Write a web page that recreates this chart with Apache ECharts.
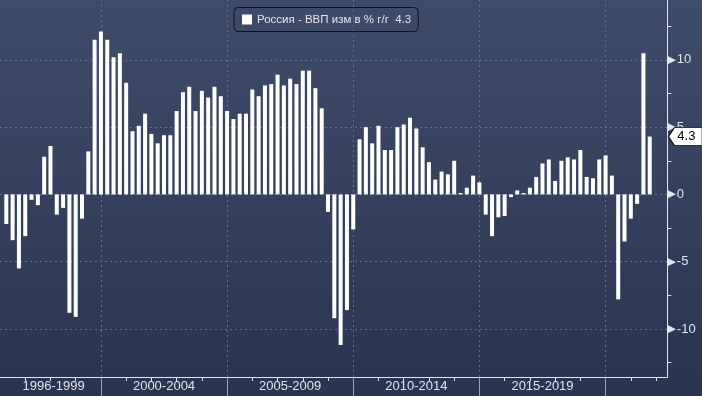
<!DOCTYPE html>
<html><head><meta charset="utf-8">
<script src="https://cdn.jsdelivr.net/npm/echarts@6/dist/echarts.min.js"></script>
<style>html,body{margin:0;padding:0;background:#333f5c}#c{width:702px;height:396px}</style>
</head><body><div id="c"></div>
<script>
const seriesName = 'Россия - ВВП изм в % г/г';
const startYear = 1996;
// quarterly y/y GDP growth, 1996Q1 .. 2021Q3
const values = [
  -2.2, -3.4, -5.5, -3.1,   // 1996
  -0.4, -0.8, 2.8, 3.6,     // 1997
  -1.5, -1.0, -8.8, -9.1,   // 1998
  -1.8, 3.2, 11.5, 12.1,    // 1999
  11.5, 10.2, 10.5, 8.3,    // 2000
  4.7, 5.1, 6.0, 4.5,       // 2001
  3.8, 4.4, 4.4, 6.2,       // 2002
  7.6, 8.0, 6.2, 7.7,       // 2003
  7.2, 8.0, 7.3, 6.2,       // 2004
  5.6, 6.0, 6.0, 7.8,       // 2005
  7.3, 8.1, 8.2, 8.9,       // 2006
  8.1, 8.6, 8.2, 9.2,       // 2007
  9.2, 7.9, 6.4, -1.3,      // 2008
  -9.2, -11.2, -8.6, -2.6,  // 2009
  4.1, 5.0, 3.8, 5.1,       // 2010
  3.3, 3.3, 5.0, 5.2,       // 2011
  5.7, 4.9, 3.5, 2.4,       // 2012
  1.1, 1.7, 1.5, 2.5,       // 2013
  0.1, 0.5, 1.4, 0.9,       // 2014
  -1.5, -3.1, -1.7, -1.6,   // 2015
  -0.2, 0.3, 0.1, 0.5,      // 2016
  1.3, 2.3, 2.6, 1.0,       // 2017
  2.5, 2.75, 2.6, 3.3,      // 2018
  1.3, 1.2, 2.6, 2.9,       // 2019
  1.4, -7.8, -3.5, -1.8,    // 2020
  -0.7, 10.5, 4.3           // 2021
];
const quarters = values.map((v, i) => (startYear + Math.floor(i / 4)) + ' Q' + (i % 4 + 1));
// x axis measured in quarters since 1996-01-01
const yearTicks = [4, 8, 12, 16, 20, 24, 28, 32, 36, 40, 44, 48, 52, 56, 60, 64, 68, 72, 76, 80, 84, 88, 92, 96, 100, 104];
const groupBounds = [16, 36, 56, 76, 96];
const groupLabelPos = [8.5, 26, 46, 66, 86];
const groupLabels = ['1996-1999', '2000-2004', '2005-2009', '2010-2014', '2015-2019'];
const yMajor = [-10, -5, 0, 5, 10];
const yMinor = [-12.5, -7.5, -2.5, 2.5, 7.5, 12.5];

const X_MIN = 0, X_MAX = 105.8;
const Y_MIN = -13.57, Y_MAX = 14.45;
const FONT = "'Liberation Sans', Arial, sans-serif";
const last = values[values.length - 1];
const axisWhite = '#e4e6ea';
const gridColor = '#5f6f8d';

const chart = echarts.init(document.getElementById('c'), null, {renderer: 'canvas'});
chart.setOption({
  animation: false,
  backgroundColor: {
    type: 'linear', x: 0, y: 0, x2: 0, y2: 1,
    colorStops: [{offset: 0, color: '#3f4c69'}, {offset: 1, color: '#29344f'}]
  },
  grid: {left: -1.1, right: 34.6, top: 0, bottom: 19, containLabel: false},
  legend: {
    left: 234, top: 7.5,
    padding: [6, 7, 6, 8],
    backgroundColor: 'rgba(0,0,0,0)',
    borderColor: '#0c111d', borderWidth: 1, borderRadius: 4,
    icon: 'rect', itemWidth: 10, itemHeight: 10,
    itemStyle: {color: '#ffffff'},
    textStyle: {color: '#e4e6ea', fontSize: 11.5, fontFamily: FONT},
    formatter: name => name + '  ' + last,
    data: [seriesName]
  },
  xAxis: [
    {
      type: 'value', position: 'bottom', min: X_MIN, max: X_MAX,
      axisLine: {show: true, onZero: false, lineStyle: {color: axisWhite, width: 1}},
      axisTick: {show: true, customValues: yearTicks, length: 4, lineStyle: {color: axisWhite}},
      axisLabel: {show: false},
      splitLine: {show: false}
    },
    {
      type: 'value', position: 'bottom', min: X_MIN, max: X_MAX,
      axisLine: {show: false, onZero: false},
      axisTick: {show: true, customValues: groupBounds, length: 19, lineStyle: {color: '#9aa1b1'}},
      axisLabel: {
        show: true, customValues: groupLabelPos, margin: 3,
        color: '#e2e4e8', fontSize: 13, fontFamily: FONT,
        formatter: v => { const k = groupLabelPos.indexOf(v); return k < 0 ? '' : groupLabels[k]; }
      },
      splitLine: {show: true, lineStyle: {color: gridColor, type: [2, 3], width: 1}}
    }
  ],
  yAxis: [
    {
      type: 'value', position: 'right', min: Y_MIN, max: Y_MAX,
      axisLine: {show: true, onZero: false, lineStyle: {color: axisWhite, width: 1}},
      axisTick: {show: true, customValues: yMinor, length: 4, lineStyle: {color: axisWhite}},
      axisLabel: {show: false},
      splitLine: {show: false}
    },
    {
      type: 'value', position: 'right', min: Y_MIN, max: Y_MAX,
      axisLine: {show: false, onZero: false},
      axisTick: {show: false, customValues: yMajor},
      axisLabel: {
        show: true, customValues: yMajor, margin: 0,
        formatter: v => '{t|▶}{v|' + v + '}',
        rich: {
          t: {fontSize: 11, color: axisWhite, fontFamily: 'DejaVu Sans', padding: [0, 1, 0, 0]},
          v: {fontSize: 13, color: '#e2e4e8', fontFamily: FONT}
        }
      },
      splitLine: {show: true, lineStyle: {color: gridColor, type: [2, 3], width: 1}}
    }
  ],
  series: [{
    name: seriesName,
    type: 'bar',
    xAxisIndex: 0, yAxisIndex: 0,
    barWidth: 4,
    itemStyle: {color: '#ffffff'},
    data: values.map((v, i) => ({name: quarters[i], value: [i + 1, v]})),
    markPoint: {
      symbol: 'path://M0,9L6,0L34,0L34,18L6,18Z',
      symbolSize: [34, 18],
      symbolOffset: [18, 0],
      itemStyle: {color: '#ffffff', borderColor: '#111111', borderWidth: 1},
      label: {show: true, color: '#000000', fontSize: 13, fontFamily: FONT, offset: [1, 0], formatter: () => String(last)},
      data: [{coord: [X_MAX, last], value: last}]
    }
  }]
});
</script>
</body></html>
